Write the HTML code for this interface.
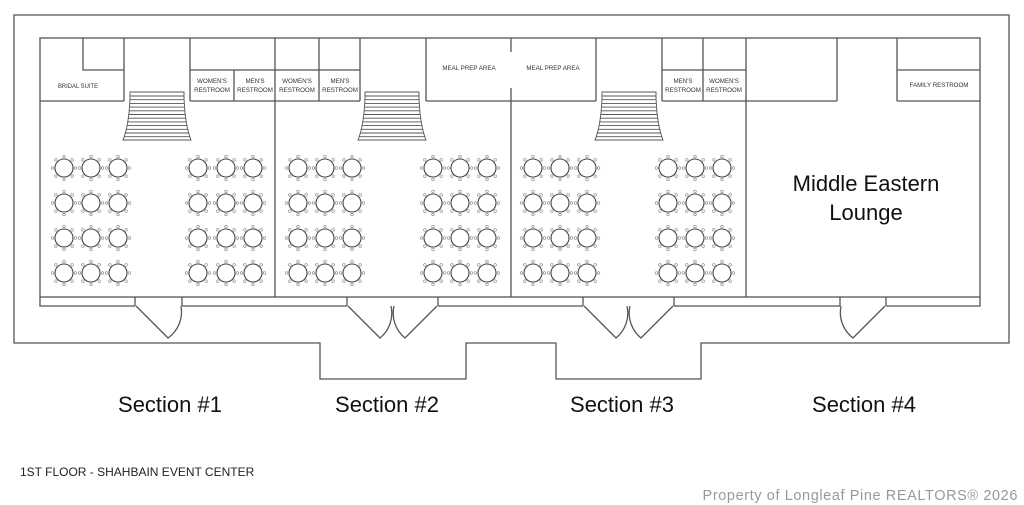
<!DOCTYPE html>
<html><head><meta charset="utf-8"><style>
html,body{margin:0;padding:0;background:#fff;width:1024px;height:505px;overflow:hidden}
svg{display:block}
text{font-family:"Liberation Sans",sans-serif}
</style></head><body>
<svg id="s" width="1024" height="505" viewBox="0 0 1024 505" xmlns="http://www.w3.org/2000/svg">
<g fill="none" stroke="#555" stroke-width="1.3">
<path d="M14 15 H1009 V343 H701 V379 H556 V343 H466 V379 H320 V343 H14 Z"/>
<rect x="40" y="38" width="940" height="259"/>
<path d="M40 297 V306 H135 M182 306 H347 M438 306 H583 M674 306 H840 M886 306 H980 V297"/>
<path d="M135 297 V306 M182 297 V306 M347 297 V306 M438 297 V306 M583 297 V306 M674 297 V306 M840 297 V306 M886 297 V306"/>
<path d="M275 38 V297 M511 38 V52 M511 88 V297 M746 38 V297"/>
<path d="M40 101 H124 M190 101 H360 M426 101 H596 M662 101 H837 M897 101 H980"/>
<path d="M83 38 V70 H124 M124 38 V101 M190 38 V101 M190 70 H360 M234 70 V101 M319 38 V101 M360 38 V101 M426 38 V101"/>
<path d="M596 38 V101 M662 38 V101 M662 70 H746 M703 38 V101 M837 38 V101 M897 38 V101 M897 70 H980"/>
<path d="M136 306 L168 338 A32 32 0 0 0 181 306"/>
<path d="M348 306 L380 338 A32 32 0 0 0 391 306 M437 306 L405 338 A32 32 0 0 1 394 306"/>
<path d="M584 306 L616 338 A32 32 0 0 0 627 306 M673 306 L641 338 A32 32 0 0 1 630 306"/>
<path d="M885 306 L853 338 A32 32 0 0 1 841 306"/>
</g>
<g id="st" fill="none" stroke="#555" stroke-width="0.9"></g>
<g id="tb" fill="none" stroke="#444"></g>
<g fill="#333" font-size="6.2" text-anchor="middle">
<text x="78" y="88" textLength="40" lengthAdjust="spacingAndGlyphs">BRIDAL SUITE</text>
<text x="212" y="83">WOMEN'S</text><text x="212" y="92">RESTROOM</text>
<text x="255" y="83">MEN'S</text><text x="255" y="92">RESTROOM</text>
<text x="297" y="83">WOMEN'S</text><text x="297" y="92">RESTROOM</text>
<text x="340" y="83">MEN'S</text><text x="340" y="92">RESTROOM</text>
<text x="469" y="70">MEAL PREP AREA</text>
<text x="553" y="70">MEAL PREP AREA</text>
<text x="683" y="83">MEN'S</text><text x="683" y="92">RESTROOM</text>
<text x="724" y="83">WOMEN'S</text><text x="724" y="92">RESTROOM</text>
<text x="939" y="87">FAMILY RESTROOM</text>
</g>
<g fill="#111" font-size="22" text-anchor="middle">
<text x="866" y="191">Middle Eastern</text>
<text x="866" y="220">Lounge</text>
<text x="170" y="412">Section #1</text>
<text x="387" y="412">Section #2</text>
<text x="622" y="412">Section #3</text>
<text x="864" y="412">Section #4</text>
</g>
<text x="20" y="476" font-size="12" fill="#222">1ST FLOOR - SHAHBAIN EVENT CENTER</text>
<text x="1018" y="500" font-size="14.5" fill="#999" text-anchor="end" letter-spacing="0.6">Property of Longleaf Pine REALTORS® 2026</text>
</svg>
<script>
var NS="http://www.w3.org/2000/svg";
function el(p,n,a){var e=document.createElementNS(NS,n);for(var k in a)e.setAttribute(k,a[k]);p.appendChild(e);}
var tb=document.getElementById("tb"),st=document.getElementById("st");
var cols=[64,91,118,198,226,253,298,325,352,433,460,487,533,560,587,668,695,722];
var rows=[168,203,238,273];
cols.forEach(function(x){rows.forEach(function(y){
 el(tb,"circle",{cx:x,cy:y,r:9,"stroke-width":1.1});
 for(var i=0;i<8;i++){var a=i*Math.PI/4;el(tb,"circle",{cx:x+11.5*Math.cos(a),cy:y+11.5*Math.sin(a),r:1.3,"stroke-width":0.6,stroke:"#888"});}
});});
[157,392,629].forEach(function(cx){
 el(st,"path",{d:"M"+(cx-27)+" 92 H"+(cx+27)+" V98 Q"+(cx+28)+" 125 "+(cx+34)+" 140 H"+(cx-34)+" Q"+(cx-28)+" 125 "+(cx-27)+" 98 Z"});
 for(var y=96;y<140;y+=3.7){var t=(y-92)/48;var w=27+7*t*t;el(st,"line",{x1:cx-w,y1:y,x2:cx+w,y2:y});}
});
</script>
</body></html>
